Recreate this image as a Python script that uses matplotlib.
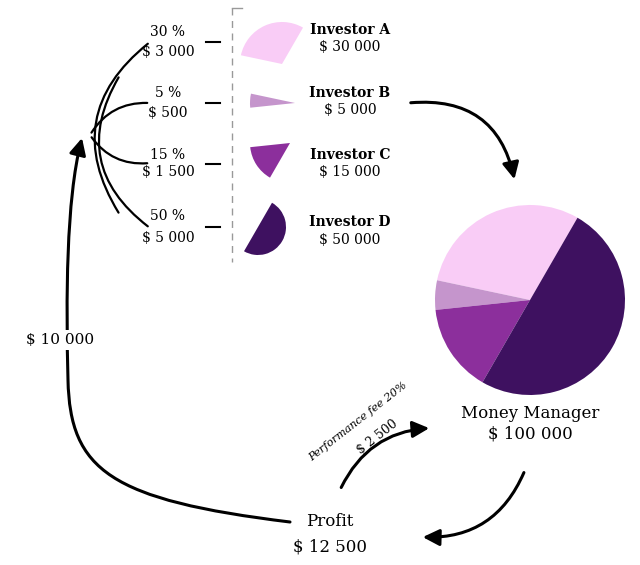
import matplotlib
matplotlib.use("Agg")
import matplotlib.pyplot as plt
from matplotlib.patches import Wedge, FancyArrowPatch
from matplotlib.path import Path

investors = ["Investor A", "Investor B", "Investor C", "Investor D"]
invest_amounts = ["$ 30 000", "$ 5 000", "$ 15 000", "$ 50 000"]
shares = [30, 5, 15, 50]
profit_share_labels = ["30 %", "5 %", "15 %", "50 %"]
profit_amounts = ["$ 3 000", "$ 500", "$ 1 500", "$ 5 000"]
colors = ["#f9ccf6", "#c595cc", "#8c2f9c", "#3e1160"]

H = 565
def Y(y): return H - y

fig = plt.figure(figsize=(6.4, 5.65), dpi=100)
ax = fig.add_axes([0, 0, 1, 1])
serif = "DejaVu Serif"

ax.pie(shares, colors=colors, startangle=60, counterclock=True,
       center=(530, Y(300)), radius=95, wedgeprops=dict(linewidth=0), frame=False)
ax.set_xlim(0, 640); ax.set_ylim(0, H); ax.set_aspect("equal"); ax.axis("off")

angles = []
a = 60
for s in shares:
    angles.append((a, a + s * 3.6)); a += s * 3.6
small_centers = [(282, 64), (295, 103), (290, 143), (258, 227)]
small_r = [42, 45, 40, 28]
label_y = [(30, 47), (93, 110), (155, 172), (222, 240)]
left_y = [(32, 52), (93, 113), (155, 172), (216, 238)]
for i in range(4):
    cx, cy = small_centers[i]
    ax.add_patch(Wedge((cx, Y(cy)), small_r[i], angles[i][0], angles[i][1],
                       facecolor=colors[i], edgecolor="none"))
    ax.text(350, Y(label_y[i][0]), investors[i], ha="center", va="center",
            fontsize=10, family=serif, fontweight="bold")
    ax.text(350, Y(label_y[i][1]), invest_amounts[i], ha="center", va="center",
            fontsize=10, family=serif)
    ax.text(168, Y(left_y[i][0]), profit_share_labels[i], ha="center", va="center",
            fontsize=10, family=serif)
    ax.text(168, Y(left_y[i][1]), profit_amounts[i], ha="center", va="center",
            fontsize=10, family=serif)
    ym = (left_y[i][0] + left_y[i][1]) / 2
    ax.plot([206, 220], [Y(ym), Y(ym)], color="black", lw=1.5)

ax.plot([232, 232], [Y(8), Y(262)], color="#999999", lw=1, ls=(0, (5, 4)))
ax.plot([232, 242], [Y(8), Y(8)], color="#999999", lw=1)

ax.text(530, Y(413), "Money Manager", ha="center", va="center", fontsize=12, family=serif)
ax.text(530, Y(434), "$ 100 000", ha="center", va="center", fontsize=12, family=serif)
ax.text(330, Y(522), "Profit", ha="center", va="center", fontsize=12, family=serif)
ax.text(330, Y(547), "$ 12 500", ha="center", va="center", fontsize=12, family=serif)
ax.text(60, Y(340), "$ 10 000", ha="center", va="center", fontsize=11, family=serif,
        bbox=dict(facecolor="white", edgecolor="none", pad=2))
ax.text(358, Y(422), "Performance fee 20%", ha="center", va="center", fontsize=8,
        family=serif, style="italic", rotation=38)
ax.text(377, Y(437), "$ 2 500", ha="center", va="center", fontsize=9,
        family=serif, rotation=38)

def arrow(p0, p1, rad, head=True, lw=2.2):
    st = "-|>,head_length=10,head_width=5" if head else "-"
    ax.add_patch(FancyArrowPatch((p0[0], Y(p0[1])), (p1[0], Y(p1[1])),
                 connectionstyle=f"arc3,rad={rad}", arrowstyle=st,
                 color="black", lw=lw, mutation_scale=1))

arrow((408, 103), (515, 182), -0.45)
arrow((525, 470), (420, 537), -0.35)
arrow((340, 490), (432, 428), -0.3)
# big left return arrow (profit -> up)
pts = [(290, 522), (110, 500), (70, 470), (68, 380),
       (66, 300), (66, 200), (82, 138)]
codes = [Path.MOVETO, Path.CURVE4, Path.CURVE4, Path.CURVE4,
         Path.CURVE4, Path.CURVE4, Path.CURVE4]
path = Path([(x, Y(y)) for x, y in pts], codes)
ax.add_patch(FancyArrowPatch(path=path, arrowstyle="-|>,head_length=10,head_width=5",
             color="black", lw=2.2, mutation_scale=1))
arrow((150, 42), (120, 215), 0.45, head=False, lw=1.6)
arrow((150, 103), (90, 135), 0.3, head=False, lw=1.6)
arrow((150, 163), (90, 135), -0.3, head=False, lw=1.6)
arrow((150, 228), (120, 75), -0.45, head=False, lw=1.6)

fig.savefig("out.png", dpi=100)
